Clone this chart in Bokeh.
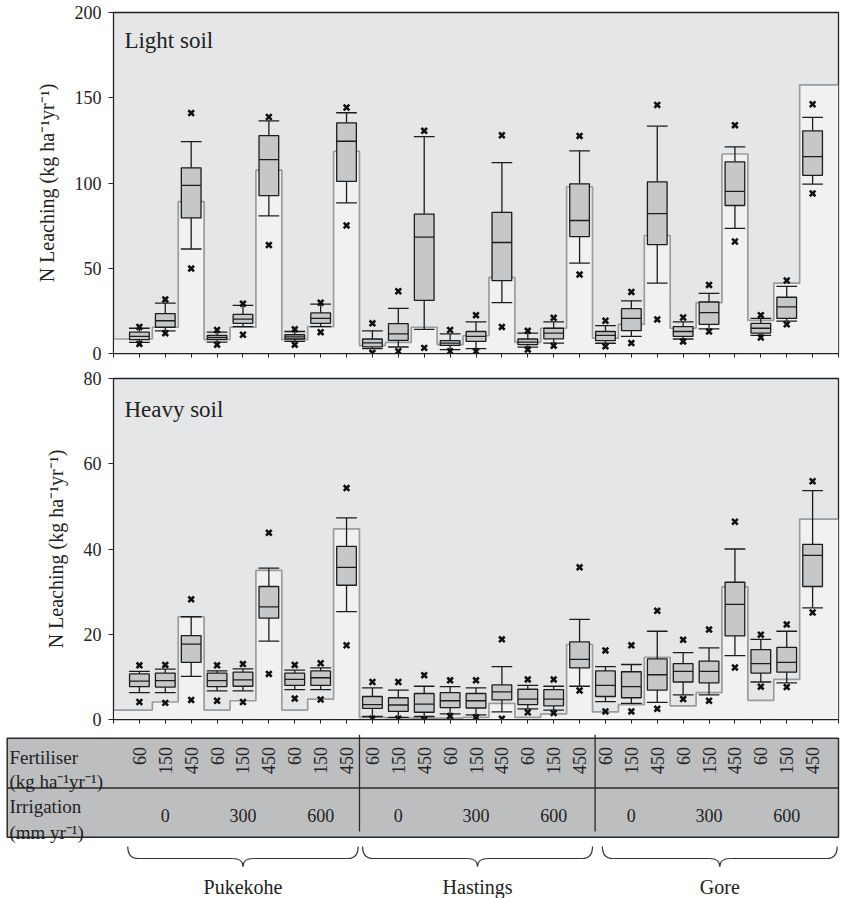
import math
from bokeh.plotting import figure
from bokeh.models import Range1d, FixedTicker, CustomLabelingPolicy
from bokeh.layouts import column
from bokeh.embed import file_html
from bokeh.resources import INLINE
from bokeh.core.properties import value

SERIF = "Liberation Serif"

# ---------------- data ----------------
sites = ["Pukekohe", "Hastings", "Gore"]
irrigation = ["0", "300", "600"]
fertiliser = ["60", "150", "450"]

# Light soil (kg N/ha/yr): box stats per treatment (27 treatments)
light_q1 = [8.1, 15.4, 79.5, 8.3, 17.7, 92.6, 8.5, 17.7, 100.9,
            3.9, 7.7, 31.1, 4.8, 7.1, 42.7, 5.2, 8.6, 68.6,
            7.5, 13.4, 63.8, 10.0, 17.1, 86.8, 11.9, 20.6, 104.5]
light_med = [10.0, 19.2, 98.6, 9.4, 20.2, 113.7, 9.8, 20.6, 124.5,
             6.2, 11.5, 68.2, 6.1, 10.0, 65.1, 6.7, 11.9, 78.0,
             10.6, 20.6, 82.0, 12.9, 24.0, 95.1, 14.8, 27.3, 115.5]
light_q3 = [12.5, 23.4, 108.9, 10.6, 22.9, 127.8, 11.0, 23.8, 135.3,
            8.5, 17.5, 81.8, 7.5, 12.9, 82.8, 8.5, 14.8, 99.5,
            12.9, 26.3, 100.7, 15.8, 30.2, 112.4, 17.7, 33.0, 130.6]
light_wlo = [6.5, 13.3, 61.3, 6.7, 15.8, 80.7, 7.1, 15.8, 88.4,
             2.9, 3.8, 14.2, 2.3, 2.9, 29.8, 3.7, 6.1, 53.0,
             6.0, 10.0, 41.3, 8.5, 14.4, 73.4, 10.6, 19.0, 99.3]
light_whi = [14.8, 29.6, 124.3, 12.5, 28.2, 136.4, 12.9, 29.0, 141.2,
             13.3, 26.5, 127.2, 11.5, 18.6, 112.0, 11.9, 18.6, 118.9,
             16.3, 30.9, 133.3, 18.6, 35.3, 121.2, 20.6, 39.4, 138.5]
light_min = [5.6, 11.9, 49.8, 5.2, 11.0, 63.6, 5.2, 12.5, 75.1,
             0.4, 1.3, 3.3, 1.3, 1.3, 15.6, 2.3, 4.6, 46.3,
             4.2, 6.1, 20.0, 7.1, 12.9, 65.7, 9.4, 17.1, 93.9]
light_max = [15.6, 31.7, 141.0, 13.8, 29.2, 138.7, 14.2, 29.8, 144.3,
             17.7, 36.5, 130.6, 13.8, 22.5, 128.0, 13.3, 20.9, 127.6,
             19.2, 36.1, 145.8, 21.1, 40.2, 133.9, 22.5, 42.8, 146.2]
light_model = [8.5, 15.4, 89.1, 8.1, 15.4, 107.6, 8.1, 15.8, 118.5,
               4.6, 6.5, 15.4, 5.2, 10.4, 44.6, 6.5, 14.8, 97.8,
               9.0, 17.1, 69.2, 14.8, 29.8, 117.0, 19.4, 41.3, 157.5]

# Heavy soil
heavy_q1 = [7.7, 7.6, 13.4, 7.7, 7.8, 23.8, 8.0, 8.0, 31.5,
            2.6, 1.9, 1.7, 2.8, 2.7, 4.6, 3.5, 3.2, 12.1,
            5.4, 5.1, 6.9, 8.8, 8.6, 19.6, 10.9, 11.1, 31.2]
heavy_med = [9.0, 9.1, 17.7, 9.1, 9.3, 26.4, 9.4, 9.8, 35.7,
             3.5, 3.4, 3.6, 4.4, 4.4, 6.5, 4.8, 4.8, 14.1,
             8.0, 7.7, 10.5, 11.3, 11.3, 27.0, 13.1, 13.4, 38.5]
heavy_q3 = [10.7, 10.9, 19.7, 10.9, 11.1, 31.2, 10.9, 11.4, 40.6,
            5.4, 5.1, 6.1, 6.3, 6.1, 8.1, 7.1, 7.0, 18.2,
            11.4, 11.2, 14.2, 13.1, 13.7, 32.2, 16.4, 16.9, 41.1]
heavy_wlo = [6.3, 6.3, 10.1, 6.7, 6.7, 18.4, 7.0, 7.0, 25.3,
             0.7, 0.5, 0.7, 1.3, 1.1, 1.8, 2.5, 2.2, 7.8,
             4.2, 3.8, 4.0, 5.8, 5.8, 15.0, 8.8, 8.6, 26.2]
heavy_whi = [11.3, 11.8, 24.1, 11.4, 11.9, 35.5, 11.6, 12.1, 47.3,
             7.4, 6.9, 7.8, 7.7, 7.4, 12.4, 8.0, 7.8, 23.5,
             12.4, 12.9, 20.7, 15.7, 16.8, 40.0, 18.8, 20.7, 53.7]
heavy_min = [4.1, 3.9, 4.6, 4.4, 4.1, 10.7, 4.9, 4.7, 17.4,
             0.2, 0.2, 0.0, 0.8, 0.5, 0.2, 1.7, 1.5, 6.8,
             1.9, 1.9, 2.5, 4.8, 4.4, 12.2, 7.7, 7.6, 25.1]
heavy_max = [12.7, 12.8, 28.2, 12.7, 13.0, 43.8, 12.8, 13.2, 54.3,
             8.8, 8.8, 10.4, 9.2, 9.2, 18.8, 9.4, 9.4, 35.7,
             16.2, 17.4, 25.5, 18.7, 21.1, 46.4, 19.9, 22.3, 55.9]
heavy_model = [2.2, 4.1, 24.1, 2.2, 4.4, 35.0, 2.2, 4.8, 44.7,
               0.5, 0.4, 0.3, 0.3, 0.5, 3.8, 0.5, 1.3, 17.6,
               1.8, 3.5, 14.6, 3.2, 6.3, 31.1, 4.5, 9.4, 47.0]

light_ticks = [0, 50, 100, 150, 200]
heavy_ticks = [0, 20, 40, 60, 80]

# ---------------- derived ----------------
N = len(light_med)
cats = list(range(1, N + 1))
XMAX = N + 1
fert_labels = fertiliser * (N // 3)
irr_pos = [cats[3 * k + 1] for k in range(N // 3)]
irr_labels = irrigation * len(sites)

W = 844
BG = "#e5e6e8"
STEP_FILL = "#f1f1f1"
STEP_LINE = "#9c9c9c"
BOX_FILL = "#c6c7c9"
INK = "#1c1c1c"
YLABEL = "N Leaching (kg ha\u207b\u00b9yr\u207b\u00b9)"


def panel(q1, med, q3, wlo, whi, omin, omax, model, ticks, title, title_y,
          height, mbt, mbb):
    p = figure(width=W, height=height, x_range=Range1d(0, XMAX),
               y_range=Range1d(ticks[0], ticks[-1]), output_backend="svg",
               toolbar_location=None, min_border_left=113, min_border_right=6,
               min_border_top=mbt, min_border_bottom=mbb,
               background_fill_color=BG, border_fill_color="white",
               outline_line_color="#222222", outline_line_width=1.3,
               frame_align=False)
    p.grid.grid_line_color = None

    # model step (fill + outline)
    left = [c - 0.5 for c in cats]
    right = [c + 0.5 for c in cats]
    left[0] = 0
    right[-1] = XMAX
    p.quad(left=left, right=right, bottom=0, top=model,
           fill_color=STEP_FILL, line_color=None)
    xs, ys = [], []
    for l, r, v in zip(left, right, model):
        xs += [l, r]
        ys += [v, v]
    p.line(xs, ys, line_color=STEP_LINE, line_width=1.7)

    # whiskers
    p.segment(x0=cats, y0=wlo, x1=cats, y1=q1, line_color=INK, line_width=1.3)
    p.segment(x0=cats, y0=q3, x1=cats, y1=whi, line_color=INK, line_width=1.3)
    cl = [c - 0.4 for c in cats]
    cr = [c + 0.4 for c in cats]
    p.segment(x0=cl, y0=wlo, x1=cr, y1=wlo, line_color=INK, line_width=1.3)
    p.segment(x0=cl, y0=whi, x1=cr, y1=whi, line_color=INK, line_width=1.3)
    # boxes
    p.vbar(x=cats, width=0.76, bottom=q1, top=q3, fill_color=BOX_FILL,
           line_color=INK, line_width=1.3)
    ml = [c - 0.38 for c in cats]
    mr = [c + 0.38 for c in cats]
    p.segment(x0=ml, y0=med, x1=mr, y1=med, line_color=INK, line_width=1.3)
    # extremes
    p.scatter(x=cats + cats, y=omin + omax, marker="x", size=8,
              line_width=2.6, line_color="#111111")

    p.text(x=[0.42], y=[title_y], text=[title], text_font=value(SERIF),
           text_font_size="23px", text_baseline="alphabetic",
           text_align="left", text_color="#222222")

    ya = p.yaxis[0]
    ya.ticker = FixedTicker(ticks=ticks, minor_ticks=[])
    ya.major_tick_out = 5
    ya.major_tick_in = 0
    ya.minor_tick_line_color = None
    ya.axis_line_color = "#222222"
    ya.major_tick_line_color = "#222222"
    ya.major_label_text_font = SERIF
    ya.major_label_text_font_size = "18px"
    ya.major_label_text_color = "#222222"
    ya.major_label_standoff = 7
    ya.axis_label = YLABEL
    ya.axis_label_text_font = SERIF
    ya.axis_label_text_font_size = "20px"
    ya.axis_label_text_font_style = "normal"
    ya.axis_label_text_color = "#222222"
    ya.axis_label_standoff = 14

    xa = p.xaxis[0]
    xa.ticker = FixedTicker(ticks=list(range(0, XMAX + 1)), minor_ticks=[])
    xa.major_tick_out = 4
    xa.major_tick_in = 0
    xa.minor_tick_line_color = None
    xa.major_label_policy = CustomLabelingPolicy(code="return []")
    xa.major_label_standoff = 0
    xa.axis_line_color = "#222222"
    xa.major_tick_line_color = "#222222"
    return p


p1 = panel(light_q1, light_med, light_q3, light_wlo, light_whi, light_min,
           light_max, light_model, light_ticks, "Light soil", 183.5, 368, 12, 9)
p2 = panel(heavy_q1, heavy_med, heavy_q3, heavy_wlo, heavy_whi, heavy_min,
           heavy_max, heavy_model, heavy_ticks, "Heavy soil", 72.8, 366, 10, 8)

# ---------------- treatment table + site braces ----------------
H3 = 164
p3 = figure(width=W, height=H3, x_range=Range1d(-4.364, 28.077),
            y_range=Range1d(H3, 0), output_backend="svg",
            toolbar_location=None, x_axis_type=None, y_axis_type=None,
            min_border_left=0, min_border_right=4, min_border_top=0,
            min_border_bottom=0, outline_line_color=None,
            background_fill_color="white", border_fill_color="white",
            frame_align=False)
p3.grid.grid_line_color = None

T_LEFT, T_RIGHT = -4.105, 28.0
T_TOP, T_MID, T_BOT = 3.7, 53.5, 102.7
p3.quad(left=[T_LEFT], right=[T_RIGHT], top=[T_TOP], bottom=[T_BOT],
        fill_color="#bdbec0", line_color="#2a2a2a", line_width=1.5)
p3.segment(x0=[T_LEFT], y0=[T_MID], x1=[T_RIGHT], y1=[T_MID],
           line_color="#2a2a2a", line_width=1.3)
site_div = [9.5, 18.6]
p3.segment(x0=site_div, y0=[0, 0], x1=site_div, y1=[97, 97],
           line_color="#2a2a2a", line_width=1.3)

p3.text(x=cats, y=[12.5] * N, text=fert_labels, angle=math.pi / 2,
        text_align="right", text_baseline="middle", text_font=value(SERIF),
        text_font_size="18px", text_color="#222222")
p3.text(x=irr_pos, y=[80.7] * len(irr_pos), text=irr_labels,
        text_align="center", text_baseline="alphabetic",
        text_font=value(SERIF), text_font_size="18px", text_color="#222222")
p3.text(x=[-4.02] * 4, y=[22.5, 46.5, 71.5, 97.5],
        text=["Fertiliser", "(kg ha\u207b\u00b9yr\u207b\u00b9)", "Irrigation",
              "(mm yr\u207b\u00b9)"],
        text_align="left", text_baseline="alphabetic", text_font=value(SERIF),
        text_font_size="19px", text_color="#222222")

# braces
brace_l = [0.55, 9.62, 18.88]
brace_r = [9.45, 18.5, 27.95]
YE, YM, YT = 112, 124, 132
dx = 0.4
for xl, xr in zip(brace_l, brace_r):
    xm = (xl + xr) / 2
    p3.quadratic(x0=[xl, xr, xm - dx, xm + dx], y0=[YE, YE, YM, YM],
                 x1=[xl + dx, xr - dx, xm, xm], y1=[YM, YM, YT, YT],
                 cx=[xl, xr, xm, xm], cy=[YM, YM, YM, YM],
                 line_color="#333333", line_width=1.2)
    p3.segment(x0=[xl + dx, xm + dx], y0=[YM, YM], x1=[xm - dx, xr - dx],
               y1=[YM, YM], line_color="#333333", line_width=1.2)
mids = [(a + b) / 2 for a, b in zip(brace_l, brace_r)]
p3.text(x=mids, y=[152] * 3, text=sites, text_align="center",
        text_baseline="alphabetic", text_font=value(SERIF),
        text_font_size="20px", text_color="#222222")

layout = column(p1, p2, p3, spacing=0)
open("out.html", "w").write(file_html(layout, INLINE))
